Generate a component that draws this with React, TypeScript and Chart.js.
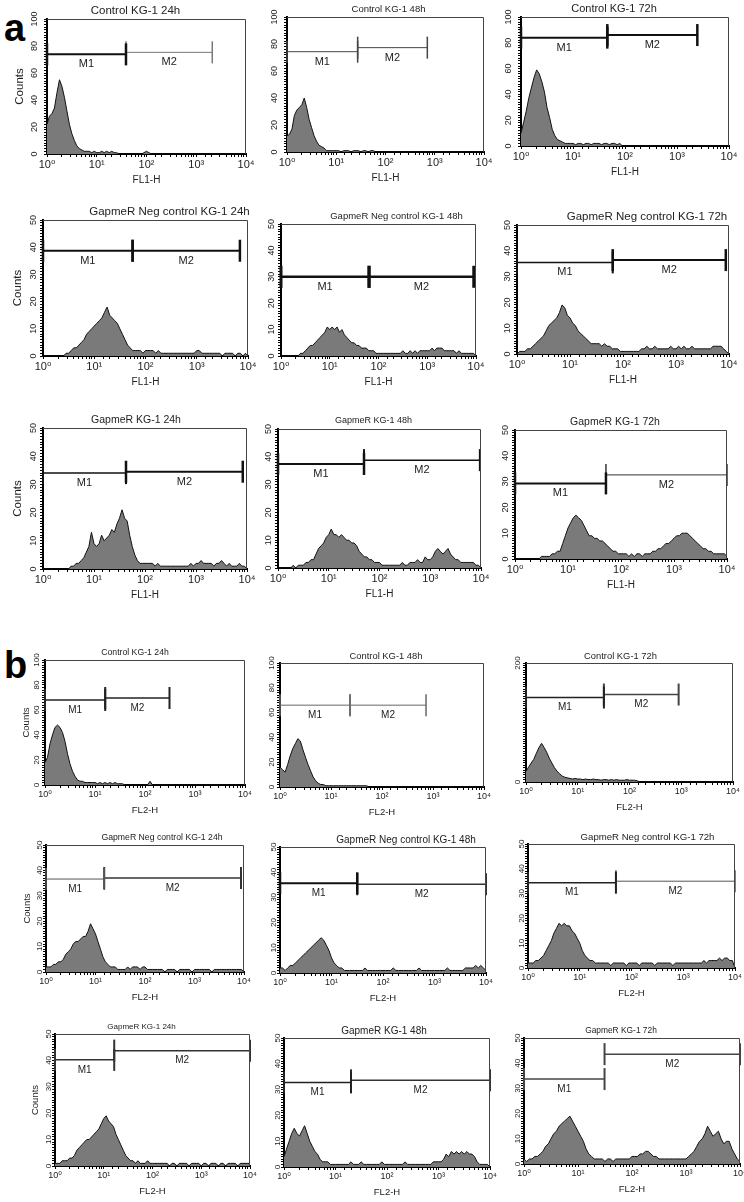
import React, { useEffect, useRef } from "react";
import { Chart, registerables } from "chart.js";

Chart.register(...registerables);

const FONT = "'Liberation Sans', Arial, 'DejaVu Sans', sans-serif";
Chart.defaults.font.family = FONT;

// Fluorescence channel centres (log axis, 20 bins per decade)
const FL_BINS = [
  1, 1.12, 1.26, 1.41, 1.58, 1.78, 2, 2.24, 2.51, 2.82, 3.16, 3.55, 3.98, 4.47, 5.01, 5.62, 6.31, 7.08, 7.94, 8.91,
  10, 11.2, 12.6, 14.1, 15.8, 17.8, 20, 22.4, 25.1, 28.2, 31.6, 35.5, 39.8, 44.7, 50.1, 56.2, 63.1, 70.8, 79.4, 89.1,
  100, 112, 126, 141, 158, 178, 200, 224, 251, 282, 316, 355, 398, 447, 501, 562, 631, 708, 794, 891,
  1000, 1120, 1260, 1410, 1580, 1780, 2000, 2240, 2510, 2820, 3160, 3550, 3980, 4470, 5010, 5620, 6310, 7080, 7940, 8910,
  10000,
];
const X_TICK_LABELS = ["10⁰", "10¹", "10²", "10³", "10⁴"];

const TITLES = [
  "Control KG-1 24h", "Control KG-1 48h", "Control KG-1 72h",
  "GapmeR Neg control KG-1 24h", "GapmeR Neg control KG-1 48h", "GapmeR Neg control KG-1 72h",
  "GapmeR KG-1 24h", "GapmeR KG-1 48h", "GapmeR KG-1 72h",
];
const Y_MAX_A = [100, 100, 100, 50, 50, 50, 50, 50, 50];
const Y_MAX_B = [100, 100, 200, 50, 50, 50, 50, 50, 50];
const Y_LABEL_STEP_A = [20, 20, 20, 10, 10, 10, 10, 10, 10];
const Y_LABEL_STEP_B = [20, 20, 200, 10, 10, 10, 10, 10, 10];

// ---------- panel a (FL1-H) ----------
const A_CTRL_24H = [
  22, 28, 30, 34, 45, 55, 50, 42, 32, 22, 15, 10, 6, 4, 3, 2, 2, 2, 1, 2,
  1, 1, 2, 1, 2, 1, 2, 1, 1, 0, 0, 0, 0, 0, 0, 0, 0, 0, 0, 1,
  2, 1, 0, 0, 0, 0, 0, 0, 0, 0, 0, 0, 0, 0, 0, 0, 0, 0, 0, 0,
  0, 0, 0, 0, 0, 0, 0, 0, 0, 0, 0, 0, 0, 0, 0, 0, 0, 0, 0, 0,
  0,
];
const A_CTRL_48H = [
  12, 13, 17, 27, 31, 33, 35, 40, 33, 24, 18, 12, 8, 5, 4, 3, 1, 1, 1, 1,
  1, 1, 0, 1, 1, 1, 0, 1, 1, 1, 0, 1, 1, 0, 1, 1, 0, 0, 0, 0,
  0, 0, 0, 0, 0, 0, 0, 0, 0, 0, 0, 0, 0, 0, 0, 0, 0, 0, 0, 0,
  0, 0, 0, 0, 0, 0, 0, 0, 0, 0, 0, 0, 0, 0, 0, 0, 0, 0, 0, 0,
  0,
];
const A_CTRL_72H = [
  10, 18, 27, 37, 45, 53, 59, 56, 50, 42, 30, 22, 13, 8, 5, 4, 3, 2, 2, 2,
  2, 1, 2, 2, 1, 2, 2, 1, 2, 2, 2, 1, 2, 2, 1, 2, 2, 1, 2, 0,
  0, 0, 0, 0, 0, 0, 0, 0, 0, 0, 0, 0, 0, 0, 0, 0, 0, 0, 0, 0,
  0, 0, 0, 0, 0, 0, 0, 0, 0, 0, 0, 0, 0, 0, 0, 0, 0, 0, 0, 0,
  0,
];
const A_NEG_24H = [
  0, 0, 0, 0, 0, 0, 0, 0, 0, 1, 1, 2, 3, 3, 4, 5, 6, 8, 9, 10,
  11, 12, 13, 14, 16, 18, 15, 14, 13, 12, 10, 8, 6, 4, 3, 2, 2, 2, 2, 1,
  2, 2, 2, 2, 1, 2, 1, 1, 1, 1, 1, 1, 1, 1, 1, 1, 1, 1, 1, 1,
  2, 2, 1, 1, 1, 1, 1, 1, 1, 1, 0, 1, 1, 1, 1, 0, 1, 1, 0, 1,
  0,
];
const A_NEG_48H = [
  0, 0, 0, 0, 0, 0, 0, 0, 1, 1, 2, 3, 4, 4, 5, 6, 7, 8, 9, 11,
  10, 11, 10, 11, 9, 10, 8, 7, 6, 5, 5, 4, 4, 3, 3, 3, 2, 2, 2, 1,
  1, 1, 1, 1, 1, 1, 1, 1, 1, 1, 2, 1, 1, 2, 1, 2, 1, 2, 2, 2,
  2, 2, 3, 2, 3, 3, 3, 2, 2, 2, 2, 2, 1, 2, 1, 1, 1, 1, 1, 1,
  0,
];
const A_NEG_72H = [
  0, 1, 1, 1, 2, 2, 3, 4, 5, 6, 7, 9, 11, 12, 13, 14, 16, 19, 18, 15,
  14, 12, 11, 9, 8, 7, 6, 5, 4, 4, 4, 4, 3, 4, 3, 3, 2, 2, 2, 1,
  1, 1, 1, 1, 1, 1, 1, 2, 2, 3, 2, 2, 3, 2, 2, 2, 2, 2, 3, 2,
  2, 3, 2, 3, 2, 2, 3, 2, 2, 2, 2, 2, 2, 2, 3, 3, 3, 3, 2, 1,
  0,
];
const A_GAP_24H = [
  0, 0, 0, 0, 0, 0, 0, 0, 0, 0, 0, 1, 1, 2, 2, 3, 4, 6, 8, 13,
  9, 8, 9, 12, 10, 11, 12, 14, 13, 16, 18, 21, 18, 17, 12, 8, 5, 3, 2, 2,
  2, 2, 2, 2, 1, 2, 1, 1, 1, 1, 1, 1, 1, 1, 1, 1, 1, 1, 2, 1,
  2, 2, 3, 2, 2, 2, 2, 1, 2, 2, 3, 2, 1, 2, 1, 1, 1, 2, 1, 1,
  0,
];
const A_GAP_48H = [
  0, 0, 0, 0, 0, 0, 1, 0, 1, 1, 1, 2, 2, 3, 3, 5, 7, 8, 9, 11,
  12, 14, 12, 12, 11, 12, 11, 10, 10, 9, 9, 8, 6, 5, 4, 4, 3, 3, 2, 2,
  2, 1, 1, 1, 1, 1, 1, 1, 1, 2, 1, 1, 2, 2, 2, 3, 2, 2, 4, 3,
  3, 4, 6, 7, 6, 5, 6, 7, 5, 4, 3, 3, 2, 2, 2, 2, 2, 2, 1, 1,
  0,
];
const A_GAP_72H = [
  0, 0, 0, 0, 0, 0, 0, 0, 0, 0, 1, 1, 1, 1, 2, 2, 3, 3, 6, 9,
  12, 14, 16, 17, 16, 15, 13, 11, 9, 9, 8, 8, 7, 7, 6, 5, 4, 3, 3, 2,
  2, 2, 2, 1, 2, 1, 2, 2, 1, 2, 2, 2, 3, 3, 4, 4, 5, 6, 6, 7,
  8, 9, 9, 10, 10, 10, 9, 8, 7, 6, 5, 4, 4, 3, 3, 2, 2, 2, 2, 2,
  1,
];

// ---------- panel b (FL2-H) ----------
const B_CTRL_24H = [
  18, 22, 33, 40, 46, 48, 46, 42, 35, 25, 17, 11, 7, 4, 3, 3, 2, 2, 2, 2,
  2, 1, 2, 1, 2, 1, 2, 1, 2, 1, 1, 1, 0, 0, 0, 0, 0, 0, 0, 0,
  0, 0, 3, 0, 0, 0, 0, 0, 0, 0, 0, 0, 0, 0, 0, 0, 0, 0, 0, 0,
  0, 0, 0, 0, 0, 0, 0, 0, 0, 0, 0, 0, 0, 0, 0, 0, 0, 0, 0, 0,
  0,
];
const B_CTRL_48H = [
  16, 14, 12, 18, 25, 31, 35, 39, 37, 30, 24, 18, 13, 8, 5, 3, 2, 2, 1, 1,
  1, 1, 1, 1, 1, 1, 1, 1, 1, 1, 1, 1, 1, 1, 1, 0, 0, 0, 0, 0,
  0, 0, 0, 0, 0, 0, 0, 0, 0, 0, 0, 0, 0, 0, 0, 0, 0, 0, 0, 0,
  0, 0, 0, 0, 0, 0, 0, 0, 0, 0, 0, 0, 0, 0, 0, 0, 0, 0, 0, 0,
  0,
];
const B_CTRL_72H = [
  18, 25, 32, 38, 48, 58, 65, 58, 50, 40, 32, 24, 18, 14, 10, 8, 7, 6, 5, 6,
  5, 5, 4, 5, 4, 4, 5, 4, 4, 3, 4, 4, 3, 4, 3, 4, 3, 3, 3, 4,
  3, 3, 3, 2, 0, 0, 0, 0, 0, 0, 0, 0, 0, 0, 0, 0, 0, 0, 0, 0,
  0, 0, 0, 0, 0, 0, 0, 0, 0, 0, 0, 0, 0, 0, 0, 0, 0, 0, 0, 0,
  0,
];
const B_NEG_24H = [
  2, 2, 2, 3, 3, 4, 4, 5, 7, 8, 9, 11, 12, 12, 13, 14, 14, 16, 19, 17,
  15, 12, 9, 6, 4, 3, 2, 2, 2, 1, 1, 1, 1, 2, 1, 2, 2, 2, 1, 2,
  2, 1, 1, 1, 1, 1, 1, 1, 0, 1, 1, 1, 1, 0, 1, 1, 1, 1, 1, 0,
  1, 1, 1, 1, 1, 1, 1, 0, 1, 1, 1, 1, 1, 1, 1, 1, 1, 1, 1, 1,
  0,
];
const B_NEG_48H = [
  2, 2, 1, 2, 3, 3, 4, 5, 6, 7, 8, 9, 10, 11, 12, 13, 14, 13, 11, 9,
  6, 4, 3, 2, 2, 1, 1, 1, 1, 1, 1, 1, 1, 2, 1, 1, 1, 1, 1, 1,
  1, 1, 1, 1, 2, 1, 1, 1, 1, 1, 1, 1, 1, 1, 2, 1, 1, 1, 1, 1,
  1, 1, 1, 1, 1, 2, 1, 1, 1, 1, 1, 1, 2, 2, 2, 2, 3, 2, 3, 2,
  1,
];
const B_NEG_72H = [
  2, 2, 2, 3, 3, 4, 5, 7, 9, 11, 14, 16, 18, 17, 18, 17, 17, 15, 14, 12,
  10, 7, 5, 4, 3, 3, 2, 2, 2, 2, 2, 2, 1, 2, 2, 2, 2, 2, 1, 2,
  2, 2, 2, 1, 2, 2, 2, 2, 2, 1, 2, 2, 2, 2, 2, 2, 1, 2, 2, 2,
  2, 2, 2, 2, 2, 2, 2, 2, 3, 2, 3, 3, 3, 3, 4, 3, 4, 4, 3, 3,
  0,
];
const B_GAP_24H = [
  1, 1, 1, 2, 2, 2, 3, 3, 4, 6, 7, 8, 9, 10, 10, 11, 12, 13, 14, 16,
  18, 19, 17, 16, 15, 12, 10, 8, 6, 4, 3, 2, 2, 1, 2, 1, 1, 1, 2, 1,
  1, 1, 1, 1, 1, 1, 1, 0, 1, 1, 0, 1, 1, 1, 1, 0, 1, 1, 1, 1,
  0, 1, 1, 0, 1, 1, 1, 0, 1, 1, 0, 1, 1, 1, 1, 0, 1, 1, 1, 1,
  1,
];
const B_GAP_48H = [
  4, 7, 10, 13, 15, 13, 12, 14, 16, 13, 10, 8, 6, 5, 3, 2, 2, 2, 1, 1,
  1, 1, 1, 1, 1, 1, 2, 1, 1, 1, 2, 1, 1, 1, 1, 1, 1, 1, 2, 1,
  1, 1, 1, 1, 1, 1, 1, 2, 1, 1, 1, 1, 1, 1, 1, 1, 1, 1, 2, 2,
  2, 2, 3, 5, 4, 6, 5, 6, 5, 6, 5, 6, 5, 5, 4, 2, 1, 1, 1, 1,
  0,
];
const B_GAP_72H = [
  2, 1, 2, 2, 3, 3, 4, 5, 7, 8, 10, 12, 13, 15, 16, 17, 18, 19, 17, 15,
  13, 11, 9, 6, 4, 3, 2, 2, 2, 2, 1, 2, 2, 1, 2, 2, 2, 2, 2, 2,
  3, 3, 3, 4, 4, 5, 5, 4, 3, 3, 2, 2, 2, 2, 2, 2, 2, 2, 2, 2,
  2, 3, 4, 5, 7, 9, 10, 12, 15, 13, 11, 12, 13, 10, 8, 9, 9, 6, 4, 2,
  1,
];

// Gates: [from, to, level] for M1 and M2
const A_CTRL_24H_GATES = [[1, 38.7, 73.8], [38.7, 2100, 75.3]];
const A_CTRL_48H_GATES = [[1, 27.2, 74.3], [27.2, 707, 77.3]];
const A_CTRL_72H_GATES = [[1, 45.7, 84], [45.7, 2460, 86]];
const A_NEG_24H_GATES = [[1, 56, 38.7], [56, 6950, 38.7]];
const A_NEG_48H_GATES = [[1, 64, 30], [64, 9000, 30]];
const A_NEG_72H_GATES = [[1, 64, 35.5], [64, 8700, 36.4]];
const A_GAP_24H_GATES = [[1, 42.4, 34], [42.4, 8260, 34.5]];
const A_GAP_48H_GATES = [[1, 49.5, 37.4], [49.5, 9500, 38.8]];
const A_GAP_72H_GATES = [[1, 52, 29.3], [52, 10000, 32.6]];
const B_CTRL_24H_GATES = [[1, 16, 68], [16, 309, 69.6]];
const B_CTRL_48H_GATES = [[1, 23.6, 66], [23.6, 730, 66]];
const B_CTRL_72H_GATES = [[1, 32, 142], [32, 890, 147]];
const B_NEG_24H_GATES = [[1, 15, 36.6], [15, 8700, 37]];
const B_NEG_48H_GATES = [[1, 31.6, 35.6], [31.6, 10000, 35.2]];
const B_NEG_72H_GATES = [[1, 50, 34.4], [50, 10000, 35]];
const B_GAP_24H_GATES = [[1, 16.4, 40.2], [16.4, 10000, 43.7]];
const B_GAP_48H_GATES = [[1, 20, 32.8], [20, 10000, 33.6]];
const B_GAP_72H_GATES = [[1, 31, 33.7], [31, 10000, 43.6]];
const GATE_NAMES = ["M1", "M2"];

const SERIES_A = [A_CTRL_24H, A_CTRL_48H, A_CTRL_72H, A_NEG_24H, A_NEG_48H, A_NEG_72H, A_GAP_24H, A_GAP_48H, A_GAP_72H];
const SERIES_B = [B_CTRL_24H, B_CTRL_48H, B_CTRL_72H, B_NEG_24H, B_NEG_48H, B_NEG_72H, B_GAP_24H, B_GAP_48H, B_GAP_72H];
const GATES_A = [A_CTRL_24H_GATES, A_CTRL_48H_GATES, A_CTRL_72H_GATES, A_NEG_24H_GATES, A_NEG_48H_GATES, A_NEG_72H_GATES, A_GAP_24H_GATES, A_GAP_48H_GATES, A_GAP_72H_GATES];
const GATES_B = [B_CTRL_24H_GATES, B_CTRL_48H_GATES, B_CTRL_72H_GATES, B_NEG_24H_GATES, B_NEG_48H_GATES, B_NEG_72H_GATES, B_GAP_24H_GATES, B_GAP_48H_GATES, B_GAP_72H_GATES];

// ---------- layout & style (page pixels of plot areas) ----------
type Box = { l: number; t: number; r: number; b: number; tdx: number; ts: number; countsOff?: number; gate: [number, string][] };
const BOXES_A: Box[] = [
  { l: 47, t: 19, r: 246, b: 154, tdx: -11, ts: 11.5, countsOff: 27, gate: [[2, "#111"], [1, "#777"]] },
  { l: 287, t: 17, r: 484, b: 152, tdx: 3, ts: 9.5, gate: [[1, "#444"], [1, "#444"]] },
  { l: 521, t: 17, r: 729, b: 146, tdx: -11, ts: 11, gate: [[2, "#111"], [2, "#111"]] },
  { l: 43, t: 220, r: 248, b: 356, tdx: 24, ts: 11.5, countsOff: 24.7, gate: [[2, "#111"], [2, "#111"]] },
  { l: 281, t: 224, r: 476, b: 356, tdx: 18, ts: 9.5, gate: [[2.5, "#111"], [2.5, "#111"]] },
  { l: 517, t: 225, r: 729, b: 354, tdx: 24, ts: 11.5, gate: [[1.5, "#111"], [2, "#111"]] },
  { l: 43, t: 428, r: 247, b: 569, tdx: -9, ts: 10.5, countsOff: 24.7, gate: [[1.5, "#111"], [2, "#111"]] },
  { l: 278, t: 429, r: 481, b: 568, tdx: -6, ts: 9, gate: [[2, "#111"], [1.5, "#111"]] },
  { l: 515, t: 430, r: 727, b: 559, tdx: -6, ts: 10.5, gate: [[2, "#111"], [1, "#333"]] },
];
const BOXES_B: Box[] = [
  { l: 45, t: 660, r: 245, b: 785, tdx: -10, ts: 8.7, countsOff: 19, gate: [[1.5, "#222"], [1.5, "#222"]] },
  { l: 280, t: 663, r: 484, b: 787, tdx: 4, ts: 9.4, gate: [[1, "#666"], [1, "#666"]] },
  { l: 526, t: 663, r: 733, b: 782, tdx: -9, ts: 9.4, gate: [[1.5, "#222"], [1.5, "#444"]] },
  { l: 46, t: 845, r: 244, b: 972, tdx: 17, ts: 8.7, countsOff: 19, gate: [[1, "#555"], [1.5, "#333"]] },
  { l: 280, t: 847, r: 486, b: 973, tdx: 23, ts: 10, gate: [[2, "#111"], [1.5, "#333"]] },
  { l: 528, t: 844, r: 735, b: 968, tdx: 16, ts: 9.6, gate: [[1.5, "#222"], [1, "#555"]] },
  { l: 55, t: 1034, r: 250, b: 1166, tdx: -11, ts: 8, countsOff: 20, gate: [[1.5, "#333"], [1.5, "#333"]] },
  { l: 284, t: 1038, r: 490, b: 1167, tdx: -3, ts: 10, gate: [[1.5, "#222"], [1.5, "#333"]] },
  { l: 524, t: 1038, r: 740, b: 1164, tdx: -11, ts: 8.4, gate: [[1.5, "#444"], [1.5, "#444"]] },
];
const STYLE = {
  a: { yTick: 9, xTick: 11, axisTitle: 10, counts: 11.5, xTitleOff: 26, yPad: 1.5, gateLabel: 11, titleGap: 8 },
  b: { yTick: 8, xTick: 9, axisTitle: 9.5, counts: 9.5, xTitleOff: 25, yPad: -1, gateLabel: 10, titleGap: 7 },
};
const YW = 44, PT = 22, PR = 16, XH = 36;

type Props = { panel: "a" | "b"; idx: number };

function Histogram({ panel, idx }: Props) {
  const ref = useRef<HTMLCanvasElement>(null);
  const box = panel === "a" ? BOXES_A[idx] : BOXES_B[idx];
  const W = box.r - box.l + YW + PR;
  const H = box.b - box.t + PT + XH;

  useEffect(() => {
    const st = STYLE[panel];
    const series = panel === "a" ? SERIES_A[idx] : SERIES_B[idx];
    const gates = panel === "a" ? GATES_A[idx] : GATES_B[idx];
    const yMax = panel === "a" ? Y_MAX_A[idx] : Y_MAX_B[idx];
    const major = panel === "a" ? Y_LABEL_STEP_A[idx] : Y_LABEL_STEP_B[idx];
    const title = TITLES[idx];
    const xLabel = panel === "a" ? "FL1-H" : "FL2-H";

    const overlay = {
      id: "overlay",
      afterDraw(chart: any) {
        const { ctx, chartArea: a, scales } = chart;
        ctx.save();
        ctx.strokeStyle = "#444";
        ctx.lineWidth = 1;
        ctx.beginPath();
        ctx.moveTo(a.left, a.top + 0.5);
        ctx.lineTo(a.right - 0.5, a.top + 0.5);
        ctx.lineTo(a.right - 0.5, a.bottom);
        ctx.stroke();
        ctx.fillStyle = "#222";
        ctx.textAlign = "center";
        ctx.textBaseline = "middle";
        ctx.font = `${box.ts}px ${FONT}`;
        ctx.fillText(title, (a.left + a.right) / 2 + box.tdx, a.top - st.titleGap);
        ctx.font = `${st.gateLabel}px ${FONT}`;
        gates.forEach((g, k) => {
          const x = scales.x.getPixelForValue(Math.sqrt(g[0] * g[1]));
          const y = scales.y.getPixelForValue(g[2]) + 10;
          ctx.fillText(GATE_NAMES[k], x, y);
        });
        ctx.restore();
      },
    };

    const datasets: any[] = [
      {
        data: FL_BINS.map((x, i) => ({ x, y: series[i] })),
        borderColor: "#111",
        borderWidth: 1,
        backgroundColor: "#7a7a7a",
        fill: "origin",
        pointRadius: 0,
        tension: 0,
        order: 2,
      },
      ...gates.map((g, k) => ({
        data: [{ x: g[0], y: g[2] }, { x: g[1], y: g[2] }],
        borderColor: box.gate[k][1],
        borderWidth: box.gate[k][0],
        pointStyle: "line",
        pointRotation: 90,
        pointRadius: 11,
        pointBorderWidth: box.gate[k][0] + 0.5,
        pointBorderColor: box.gate[k][1],
        fill: false,
        order: 1,
        clip: false,
      })),
    ];

    const countsFontLH = st.counts * 1.2;
    const chart = new Chart(ref.current!, {
      type: "line",
      data: { datasets },
      plugins: [overlay],
      options: {
        responsive: false,
        animation: false,
        events: [],
        layout: { padding: { top: PT, right: PR, left: 0, bottom: 0 } },
        plugins: { legend: { display: false }, tooltip: { enabled: false }, title: { display: false } },
        scales: {
          x: {
            type: "logarithmic",
            min: 1,
            max: 10000,
            border: { display: true, color: "#000", width: 2 },
            grid: { display: true, drawOnChartArea: false, drawTicks: true, tickLength: 3, color: "#000", lineWidth: 1 },
            ticks: {
              autoSkip: false,
              maxRotation: 0,
              minRotation: 0,
              padding: 1,
              color: "#222",
              font: { size: st.xTick, family: FONT },
              callback: (v: any) => {
                const e = Math.log10(Number(v));
                const r = Math.round(e);
                return Math.abs(e - r) < 1e-6 ? X_TICK_LABELS[r] : "";
              },
            },
            title: {
              display: true,
              text: xLabel,
              color: "#222",
              font: { size: st.axisTitle, family: FONT },
              padding: { top: 0, bottom: XH - st.xTitleOff - (st.axisTitle * 1.2) / 2 },
            },
            afterFit: (s: any) => {
              s.height = XH;
              s.paddingLeft = 0;
              s.paddingRight = 0;
            },
          },
          y: {
            type: "linear",
            min: 0,
            max: yMax,
            border: { display: true, color: "#000", width: 2 },
            grid: { display: true, drawOnChartArea: false, drawTicks: true, tickLength: 3, color: "#000", lineWidth: 1 },
            ticks: {
              stepSize: yMax / 50,
              maxTicksLimit: 100,
              autoSkip: false,
              minRotation: 90,
              maxRotation: 90,
              crossAlign: "center",
              padding: st.yPad,
              color: "#222",
              font: { size: st.yTick, family: FONT },
              callback: (v: any) => (Number(v) % major === 0 ? String(v) : ""),
            },
            title: {
              display: box.countsOff !== undefined,
              text: "Counts",
              color: "#222",
              font: { size: st.counts, family: FONT },
              padding: { top: YW - (box.countsOff || 0) - countsFontLH / 2, bottom: 0 },
            },
            afterFit: (s: any) => {
              s.width = YW;
              s.paddingTop = 0;
              s.paddingBottom = 0;
            },
          },
        },
      } as any,
    });
    return () => chart.destroy();
  }, [panel, idx]);

  return (
    <canvas
      ref={ref}
      width={W}
      height={H}
      style={{ position: "absolute", left: box.l - YW, top: box.t - PT, width: W, height: H }}
    />
  );
}

const letterStyle: React.CSSProperties = {
  position: "absolute",
  fontFamily: FONT,
  fontWeight: "bold",
  fontSize: 38,
  lineHeight: "38px",
  color: "#000",
};

export default function App() {
  const idxs = [0, 1, 2, 3, 4, 5, 6, 7, 8];
  return (
    <div
      style={{
        position: "absolute",
        left: 0,
        top: 0,
        width: 744,
        height: 1202,
        overflow: "hidden",
        background: "#fff",
      }}
    >
      <div style={{ ...letterStyle, left: 4, top: 9 }}>a</div>
      <div style={{ ...letterStyle, left: 4, top: 646 }}>b</div>
      {idxs.map((i) => (
        <Histogram key={"a" + i} panel="a" idx={i} />
      ))}
      {idxs.map((i) => (
        <Histogram key={"b" + i} panel="b" idx={i} />
      ))}
    </div>
  );
}
